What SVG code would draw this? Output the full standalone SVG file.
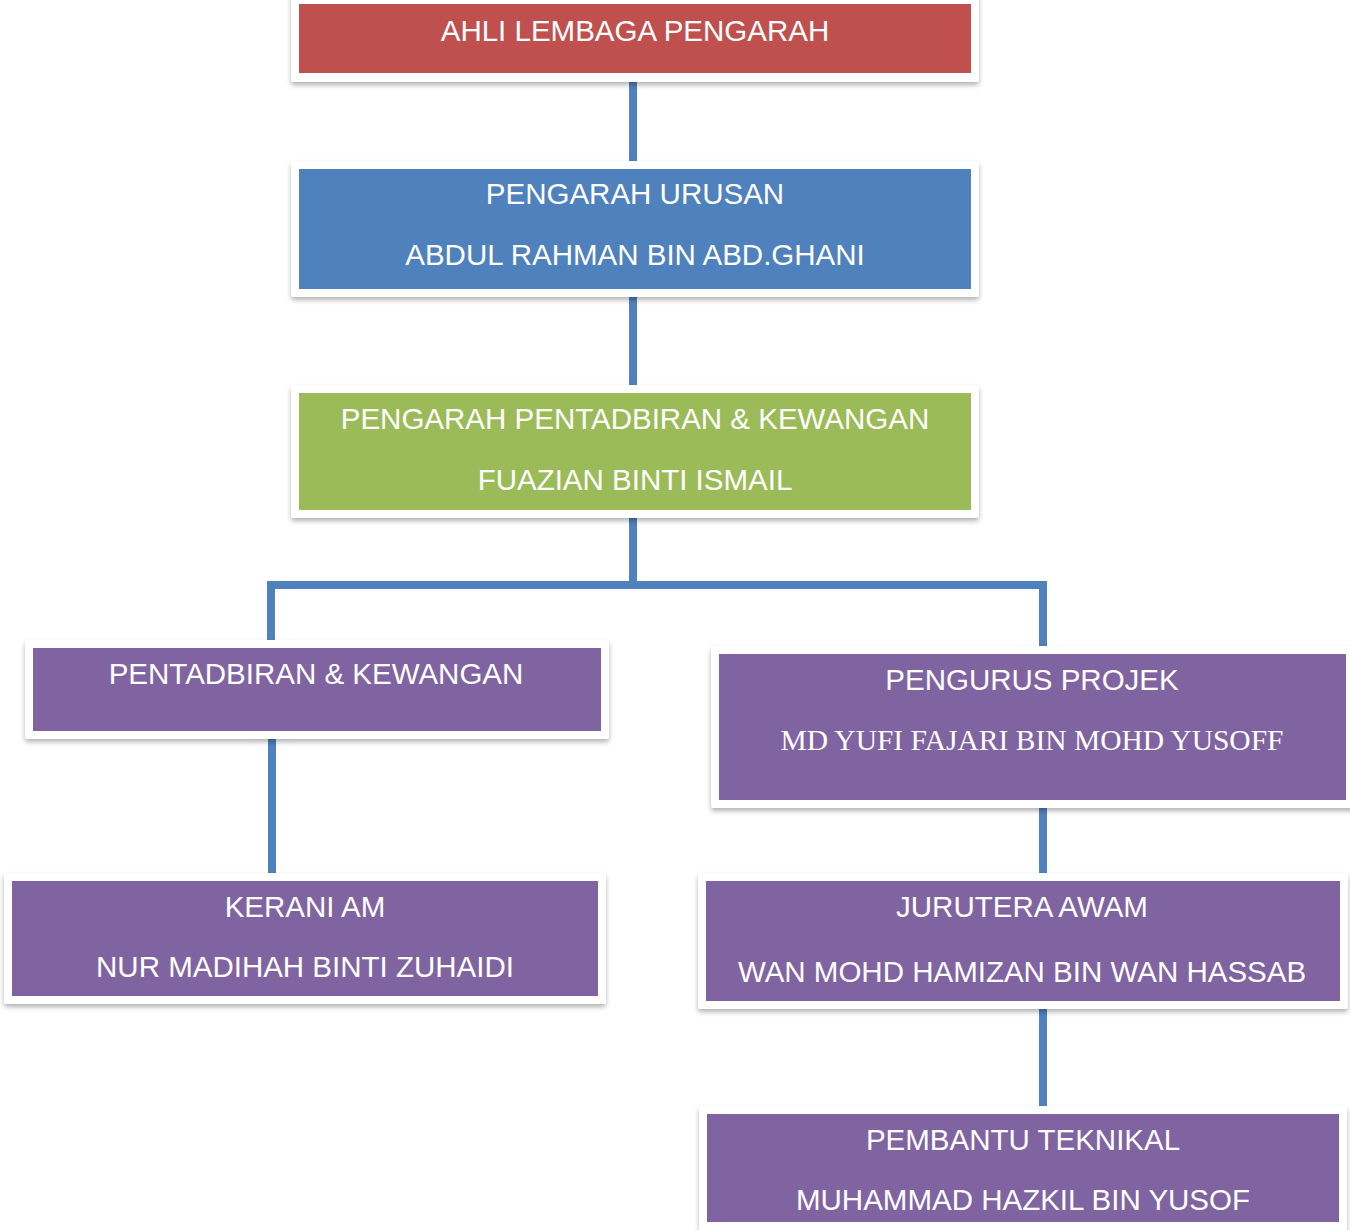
<svg xmlns="http://www.w3.org/2000/svg" width="1350" height="1230" viewBox="0 0 1350 1230">
<style>
.frame{fill:#ffffff;filter:url(#sh)}
.red{fill:#c0504d}
.blue{fill:#4f81bd}
.green{fill:#9bbb59}
.purple{fill:#8064a2}
text{font-family:"Liberation Sans",Arial,sans-serif;font-size:29.5px;fill:#ffffff;text-anchor:middle}
text.serif{font-family:"Liberation Serif","Times New Roman",serif;font-size:29.5px}
.conn{stroke:#4f81bd;stroke-width:8;fill:none;stroke-linecap:butt}
</style>
<defs>
<filter id="sh" x="-5%" y="-10%" width="110%" height="130%">
<feDropShadow dx="0" dy="3" stdDeviation="2.5" flood-color="#000000" flood-opacity="0.3"/>
</filter>
</defs>
<rect width="1350" height="1230" fill="#ffffff"/>
<g id="connectors">
<line class="conn" x1="633" y1="80" x2="633" y2="163"/>
<line class="conn" x1="633" y1="295" x2="633" y2="387"/>
<line class="conn" x1="633" y1="516" x2="633" y2="589"/>
<polyline class="conn" points="271,642 271,585 1043,585 1043,648"/>
<line class="conn" x1="272" y1="737" x2="272" y2="875"/>
<line class="conn" x1="1043" y1="806" x2="1043" y2="875"/>
<line class="conn" x1="1043" y1="1007" x2="1043" y2="1108"/>
</g>
<g id="node-ahli">
<rect class="frame" x="291" y="-6" width="688" height="88" rx="3"/>
<rect class="red" x="299" y="4" width="672" height="69"/>
<text x="635" y="41">AHLI LEMBAGA PENGARAH</text>
</g>
<g id="node-pengarah-urusan">
<rect class="frame" x="291" y="161" width="688" height="136" rx="3"/>
<rect class="blue" x="299" y="169" width="672" height="120"/>
<text x="635" y="204">PENGARAH URUSAN</text>
<text x="635" y="265">ABDUL RAHMAN BIN ABD.GHANI</text>
</g>
<g id="node-pengarah-pentadbiran">
<rect class="frame" x="291" y="385" width="688" height="133" rx="3"/>
<rect class="green" x="299" y="393" width="672" height="117"/>
<text x="635" y="429">PENGARAH PENTADBIRAN &amp; KEWANGAN</text>
<text x="635" y="490">FUAZIAN BINTI ISMAIL</text>
</g>
<g id="node-pentadbiran">
<rect class="frame" x="25" y="640" width="584" height="99" rx="3"/>
<rect class="purple" x="33" y="648" width="568" height="83"/>
<text x="316" y="684">PENTADBIRAN &amp; KEWANGAN</text>
</g>
<g id="node-pengurus-projek">
<rect class="frame" x="711" y="646" width="645" height="162" rx="3"/>
<rect class="purple" x="719" y="654" width="627" height="146"/>
<text x="1032" y="690">PENGURUS PROJEK</text>
<text class="serif" x="1032" y="750">MD YUFI FAJARI BIN MOHD YUSOFF</text>
</g>
<g id="node-kerani">
<rect class="frame" x="4" y="873" width="602" height="131" rx="3"/>
<rect class="purple" x="12" y="881" width="586" height="115"/>
<text x="305" y="917">KERANI AM</text>
<text x="305" y="977">NUR MADIHAH BINTI ZUHAIDI</text>
</g>
<g id="node-jurutera">
<rect class="frame" x="698" y="873" width="650" height="136" rx="3"/>
<rect class="purple" x="706" y="881" width="634" height="120"/>
<text x="1022" y="917">JURUTERA AWAM</text>
<text x="1022" y="982">WAN MOHD HAMIZAN BIN WAN HASSAB</text>
</g>
<g id="node-pembantu">
<rect class="frame" x="699" y="1106" width="648" height="130" rx="3"/>
<rect class="purple" x="707" y="1114" width="632" height="108"/>
<text x="1023" y="1150">PEMBANTU TEKNIKAL</text>
<text x="1023" y="1210">MUHAMMAD HAZKIL BIN YUSOF</text>
</g>
</svg>
